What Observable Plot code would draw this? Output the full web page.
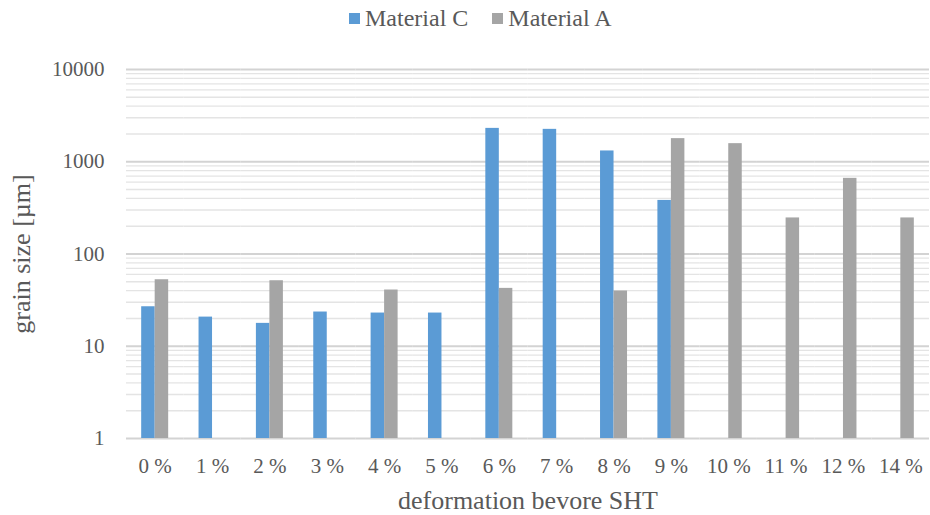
<!DOCTYPE html>
<html>
<head>
<meta charset="utf-8">
<script src="https://cdn.jsdelivr.net/npm/d3@7"></script>
<script src="https://cdn.jsdelivr.net/npm/@observablehq/plot@0.6"></script>
<style>
  html, body { margin: 0; padding: 0; background: #fff; }
  #wrap { position: relative; width: 930px; height: 515px; }
  #legend { position: absolute; top: 2px; left: 0; width: 930px; }
  #legend > div { width: fit-content; margin: 0 0 0 349px !important; font-family: "Liberation Serif", "Times New Roman", "DejaVu Serif", serif !important; }
  .plot-l-swatch { margin-right: 24px !important; color: #595959; font-family: "Liberation Serif", "Times New Roman", "DejaVu Serif", serif !important; font-size: 24px !important; }
  .plot-l-swatch > svg { margin-right: 5px !important; }
  #chart svg, #chart svg text { font-family: "Liberation Serif", "Times New Roman", "DejaVu Serif", serif !important; }
  #chart svg g[aria-label$="axis label"] { font-size: 26px; }
</style>
</head>
<body>
<div id="wrap">
  <div id="chart"></div>
  <div id="legend"></div>
</div>
<script>
const categories = ["0 %", "1 %", "2 %", "3 %", "4 %", "5 %", "6 %", "7 %", "8 %", "9 %", "10 %", "11 %", "12 %", "14 %"];
const materialC = [26.8, 20.7, 17.7, 23.5, 22.9, 22.9, 2300, 2245, 1309, 381, null, null, null, null];
const materialA = [52.6, null, 51.3, null, 40.7, null, 42.4, null, 39.7, 1781, 1571, 246, 661, 246];
const seriesNames = ["Material C", "Material A"];
const seriesColors = ["#5B9BD5", "#A5A5A5"];
const majorTicks = [1, 10, 100, 1000, 10000];
const minorMultipliers = [2, 3, 4, 5, 6, 7, 8, 9];
const minorDecades = [1, 10, 100, 1000];

const minorTicks = minorDecades.flatMap(d => minorMultipliers.map(m => d * m));

const rows = [];
categories.forEach((c, i) => {
  if (materialC[i] != null) rows.push({category: c, series: seriesNames[0], value: materialC[i]});
  if (materialA[i] != null) rows.push({category: c, series: seriesNames[1], value: materialA[i]});
});

const chart = Plot.plot({
  width: 930,
  height: 515,
  marginTop: 69,
  marginBottom: 77,
  marginLeft: 126,
  marginRight: 1,
  style: {fontFamily: "'Liberation Serif', 'Times New Roman', serif", fontSize: "21px", color: "#595959", background: "white"},
  facet: {data: rows, x: "category"},
  fx: {domain: categories, padding: 0, round: false, axis: "bottom", label: "deformation bevore SHT", labelAnchor: "center", labelOffset: 70, tickSize: 0, tickPadding: 20},
  x: {domain: seriesNames, paddingInner: 0, paddingOuter: 1.125, round: false, axis: null},
  y: {type: "log", domain: [1, 10000], ticks: majorTicks, tickFormat: d3.format("d"), tickSize: 0, tickPadding: 22,
      label: "grain size [µm]", labelAnchor: "center", labelOffset: 115, labelArrow: false},
  color: {domain: seriesNames, range: seriesColors},
  marks: [
    Plot.ruleY(minorTicks, {y: d => d, stroke: "#E4E4E4", strokeWidth: 1.3}),
    Plot.ruleY(majorTicks, {y: d => d, stroke: "#D3D3D3", strokeWidth: 2}),
    Plot.barY(rows, {x: "series", y1: 1, y2: "value", fill: "series"})
  ]
});
document.getElementById("chart").appendChild(chart);

const legend = Plot.legend({
  color: {domain: seriesNames, range: seriesColors},
  className: "plot-l",
  swatchSize: 11
});
document.getElementById("legend").appendChild(legend);
</script>
</body>
</html>
